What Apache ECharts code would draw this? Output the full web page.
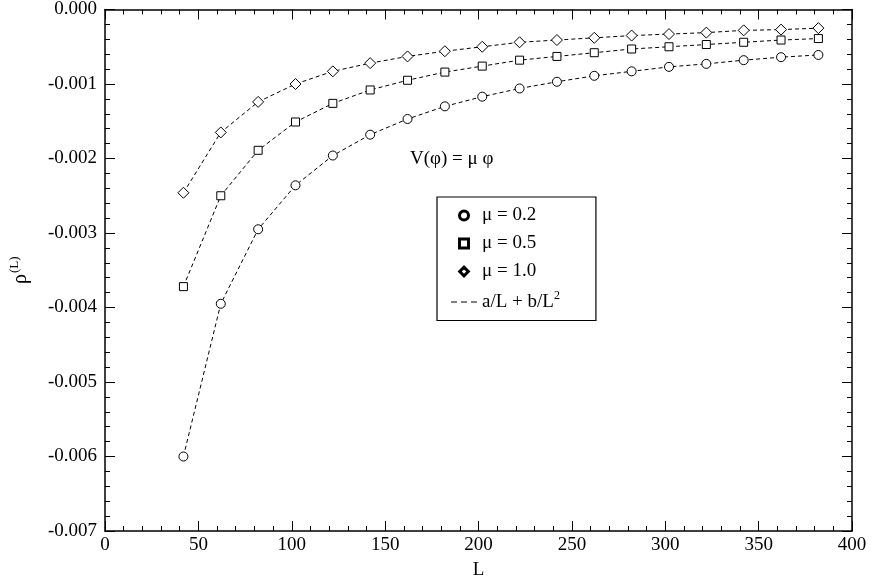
<!DOCTYPE html>
<html><head><meta charset="utf-8">
<script src="https://cdn.jsdelivr.net/npm/echarts@6/dist/echarts.min.js"></script>
<style>html,body{margin:0;padding:0;background:#fff}#c{width:872px;height:585px}</style>
</head><body><div id="c"></div>
<script>
const L = [42,62,82,102,122,142,162,182,202,222,242,262,282,302,322,342,362,382];
const mu02 = [-0.00600,-0.00395,-0.00295,-0.00236,-0.00196,-0.00168,-0.00147,-0.00130,-0.00117,-0.00106,-0.00097,-0.00089,-0.00083,-0.00077,-0.00073,-0.00068,-0.00064,-0.00061];
const mu05 = [-0.00372,-0.00250,-0.00189,-0.00151,-0.00126,-0.00108,-0.00095,-0.00084,-0.00076,-0.00068,-0.00063,-0.00058,-0.00053,-0.00050,-0.00047,-0.00044,-0.00041,-0.00039];
const mu10 = [-0.00246,-0.00165,-0.00124,-0.00100,-0.00083,-0.00072,-0.00063,-0.00056,-0.00050,-0.00044,-0.00041,-0.00038,-0.00035,-0.00033,-0.00031,-0.00028,-0.00027,-0.00025];
const names = ['μ = 0.2','μ = 0.5','μ = 1.0'];
const F = '"Liberation Serif","DejaVu Serif",serif';
const chart = echarts.init(document.getElementById('c'));
const mk = (name, vals, sym, size) => ({
  name, type:'line', data: L.map((x,i)=>[x, vals[i]]),
  symbol: sym, symbolSize: size, showSymbol:true, z:3,
  lineStyle:{color:'#000', width:1, type:[4,3]},
  itemStyle:{color:'#fff', borderColor:'#000', borderWidth:1}
});
const axisCommon = {
  axisLine:{show:true, onZero:false, lineStyle:{color:'#000', width:1.5}},
  axisTick:{show:true, inside:true, length:10, lineStyle:{color:'#000'}},
  minorTick:{show:true, splitNumber:5, length:5, lineStyle:{color:'#000'}},
  splitLine:{show:false}
};
chart.setOption({
  animation:false,
  grid:{left:97, right:20, top:8, bottom:49},
  xAxis:[
    Object.assign({type:'value', min:0, max:400, interval:50, name:'L', nameLocation:'middle', nameGap:30,
      nameTextStyle:{fontFamily:F, fontSize:19, color:'#000'},
      axisLabel:{fontFamily:F, fontSize:19, color:'#000', margin:5}}, axisCommon),
    Object.assign({type:'value', min:0, max:400, interval:50, position:'top', axisLabel:{show:false}}, axisCommon)
  ],
  yAxis:[
    Object.assign({type:'value', min:-0.007, max:0, interval:0.001, name:'ρ{s|(L)}', nameLocation:'middle', nameGap:72,
      nameTextStyle:{fontFamily:F, fontSize:20, color:'#000',
        rich:{s:{fontFamily:F, fontSize:13, verticalAlign:'top', padding:[0,0,12,1]}}},
      axisLabel:{fontFamily:F, fontSize:19, color:'#000', margin:8, formatter:v=>v.toFixed(3)}}, axisCommon),
    Object.assign({type:'value', min:-0.007, max:0, interval:0.001, position:'right', axisLabel:{show:false}}, axisCommon)
  ],
  legend:{
    orient:'vertical', left:437, top:197, width:150,
    padding:[9,36,9,14], itemGap:9, itemWidth:26, itemHeight:10,
    borderColor:'#000', borderWidth:1.2, backgroundColor:'#fff',
    textStyle:{fontFamily:F, fontSize:19, color:'#000',
      rich:{s:{fontFamily:F, fontSize:12, verticalAlign:'top', padding:[0,0,12,0]}}},
    formatter:n => n === 'fit' ? 'a/L + b/L{s|2}' : n,
    data:[
      {name:'μ = 0.2', icon:'path://M5,0A5,5 0 1 1 4.99,0Z M5,1A4,4 0 1 0 5.01,1Z', itemStyle:{color:'#000'}},
      {name:'μ = 0.5', icon:'path://M0,0H10V10H0Z M1,1V9H9V1Z', itemStyle:{color:'#000'}},
      {name:'μ = 1.0', icon:'path://M5,0L10,5L5,10L0,5Z M5,1.4L1.4,5L5,8.6L8.6,5Z', itemStyle:{color:'#000'}},
      {name:'fit', icon:'path://M0,0H6V1H0Z M10,0H16V1H10Z M20,0H26V1H20Z', itemStyle:{color:'#000'}}
    ]
  },
  graphic:[
    {type:'text', left:410, top:150, style:{text:'V(φ) = μ φ', font:'19px '+F, fill:'#000'}}
  ],
  series:[
    mk(names[0], mu02, 'circle', 9),
    mk(names[1], mu05, 'rect', 8),
    mk(names[2], mu10, 'diamond', 11),
    {name:'fit', type:'line', data:[], lineStyle:{type:'dashed', color:'#000'}}
  ]
});
</script></body></html>
